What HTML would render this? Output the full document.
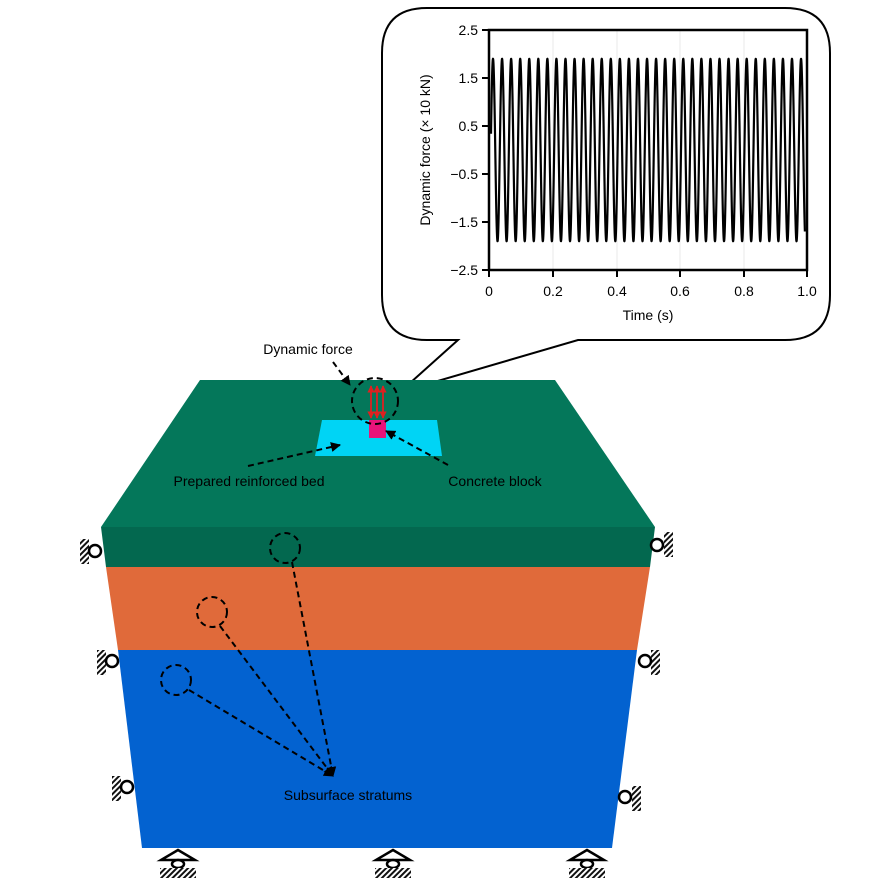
<!DOCTYPE html>
<html><head><meta charset="utf-8"><style>
html,body{margin:0;padding:0;background:#fff}
svg{display:block;font-family:"Liberation Sans",sans-serif}
</style></head><body>
<svg id="s" width="888" height="885" viewBox="0 0 888 885" xmlns="http://www.w3.org/2000/svg">
<defs>
<pattern id="h" width="4" height="4" patternUnits="userSpaceOnUse" patternTransform="rotate(45)">
<rect width="4" height="4" fill="#fff"/><rect width="2" height="4" fill="#111"/></pattern>
<marker id="ar" viewBox="0 0 10 10" refX="9" refY="5" markerWidth="5" markerHeight="5" orient="auto"><path d="M0,0L10,5L0,10z" fill="#000"/></marker>
<marker id="rr" viewBox="0 0 10 10" refX="9" refY="5" markerWidth="4" markerHeight="4" orient="auto-start-reverse"><path d="M0,0L10,5L0,10z" fill="#e02020"/></marker>
</defs>
<path d="M427,8 H785 Q830,8 830,53 V295 Q830,340 785,340 H578 L400,392 L458,340 H427 Q382,340 382,295 V53 Q382,8 427,8 Z" fill="#fff" stroke="#000" stroke-width="2"/>
<g stroke="#e8e8e8" stroke-width="1"><line x1="553" y1="30" x2="553" y2="270"/><line x1="617" y1="30" x2="617" y2="270"/><line x1="680" y1="30" x2="680" y2="270"/><line x1="744" y1="30" x2="744" y2="270"/></g>
<polyline id="wave" fill="none" stroke="#000" stroke-width="2.2" stroke-linejoin="round"/>
<rect x="489" y="30" width="318" height="240" fill="none" stroke="#000" stroke-width="2.5"/>
<g stroke="#000" stroke-width="2">
<line x1="482" y1="30" x2="489" y2="30"/><line x1="482" y1="78" x2="489" y2="78"/><line x1="482" y1="126" x2="489" y2="126"/><line x1="482" y1="174" x2="489" y2="174"/><line x1="482" y1="222" x2="489" y2="222"/><line x1="482" y1="270" x2="489" y2="270"/>
<line x1="489" y1="270" x2="489" y2="277"/><line x1="553" y1="270" x2="553" y2="277"/><line x1="617" y1="270" x2="617" y2="277"/><line x1="680" y1="270" x2="680" y2="277"/><line x1="744" y1="270" x2="744" y2="277"/><line x1="807" y1="270" x2="807" y2="277"/>
</g>
<g font-size="14" text-anchor="end" fill="#000">
<text x="478" y="35">2.5</text><text x="478" y="83">1.5</text><text x="478" y="131">0.5</text><text x="478" y="179">−0.5</text><text x="478" y="227">−1.5</text><text x="478" y="275">−2.5</text></g>
<g font-size="14" text-anchor="middle" fill="#000">
<text x="489" y="296">0</text><text x="553" y="296">0.2</text><text x="617" y="296">0.4</text><text x="680" y="296">0.6</text><text x="744" y="296">0.8</text><text x="807" y="296">1.0</text>
<text x="648" y="320">Time (s)</text>
<text transform="translate(430,150) rotate(-90)">Dynamic force (× 10 kN)</text></g>
<polygon points="200,380 555,380 655,527 101,527" fill="#04775a"/>
<polygon points="101,527 655,527 650,567 106,567" fill="#03684f"/>
<polygon points="106,567 650,567 637,650 118,650" fill="#e06a3a"/>
<polygon points="118,650 637,650 612,848 142,848" fill="#0362d0"/>
<polygon points="322,420 437,420 442,456 315,456" fill="#00d4f5"/>
<rect x="369" y="420" width="17" height="18" fill="#e8137a"/>
<g stroke="#e02020" stroke-width="1.8" marker-start="url(#rr)" marker-end="url(#rr)">
<line x1="371" y1="418" x2="371" y2="386"/><line x1="377" y1="418" x2="377" y2="386"/><line x1="383" y1="418" x2="383" y2="386"/></g>
<g fill="none" stroke="#000" stroke-width="2" stroke-dasharray="6,4">
<circle cx="375" cy="401" r="23"/>
<circle cx="285" cy="548" r="15"/><circle cx="212" cy="612" r="15"/><circle cx="176" cy="680" r="15"/>
<line x1="333" y1="362" x2="350" y2="385" marker-end="url(#ar)"/>
<line x1="248" y1="466" x2="340" y2="445" marker-end="url(#ar)"/>
<line x1="448" y1="465" x2="386" y2="431" marker-end="url(#ar)"/>
<line x1="292" y1="562" x2="333" y2="776" marker-end="url(#ar)"/>
<line x1="220" y1="626" x2="333" y2="776" marker-end="url(#ar)"/>
<line x1="189" y1="690" x2="333" y2="776" marker-end="url(#ar)"/>
</g>
<g font-size="14" fill="#000" text-anchor="middle">
<text x="308" y="354">Dynamic force</text>
<text x="249" y="486">Prepared reinforced bed</text>
<text x="495" y="486">Concrete block</text>
<text x="348" y="800">Subsurface stratums</text></g>
<g stroke="#000" stroke-width="2.5" fill="#fff">
<rect x="80" y="539" width="9" height="25" fill="url(#h)" stroke="none"/><circle cx="95" cy="551" r="6"/>
<rect x="97" y="650" width="9" height="25" fill="url(#h)" stroke="none"/><circle cx="112" cy="661" r="6"/>
<rect x="112" y="776" width="9" height="25" fill="url(#h)" stroke="none"/><circle cx="127" cy="787" r="6"/>
<rect x="664" y="532" width="9" height="25" fill="url(#h)" stroke="none"/><circle cx="657" cy="545" r="6"/>
<rect x="651" y="650" width="9" height="25" fill="url(#h)" stroke="none"/><circle cx="645" cy="661" r="6"/>
<rect x="632" y="786" width="9" height="25" fill="url(#h)" stroke="none"/><circle cx="625" cy="797" r="6"/>
</g>
<g stroke="#000" stroke-width="2.5" fill="#fff">
<g transform="translate(178,0)"><polygon points="0,850 -17,860 17,860" fill="none"/><ellipse cx="0" cy="864" rx="6" ry="4"/><rect x="-18" y="868" width="36" height="10" fill="url(#h)" stroke="none"/></g>
<g transform="translate(393,0)"><polygon points="0,850 -17,860 17,860" fill="none"/><ellipse cx="0" cy="864" rx="6" ry="4"/><rect x="-18" y="868" width="36" height="10" fill="url(#h)" stroke="none"/></g>
<g transform="translate(587,0)"><polygon points="0,850 -17,860 17,860" fill="none"/><ellipse cx="0" cy="864" rx="6" ry="4"/><rect x="-18" y="868" width="36" height="10" fill="url(#h)" stroke="none"/></g>
</g>
</svg>
<script>
var p=[];for(var x=491;x<=805;x+=0.1){var t=(x-489)/318;var v=1.9*Math.cos(2*Math.PI*35.1*(t-0.0126));p.push(x.toFixed(2)+","+(150-v*48).toFixed(2));}
document.getElementById("wave").setAttribute("points",p.join(" "));
</script>
</body></html>
